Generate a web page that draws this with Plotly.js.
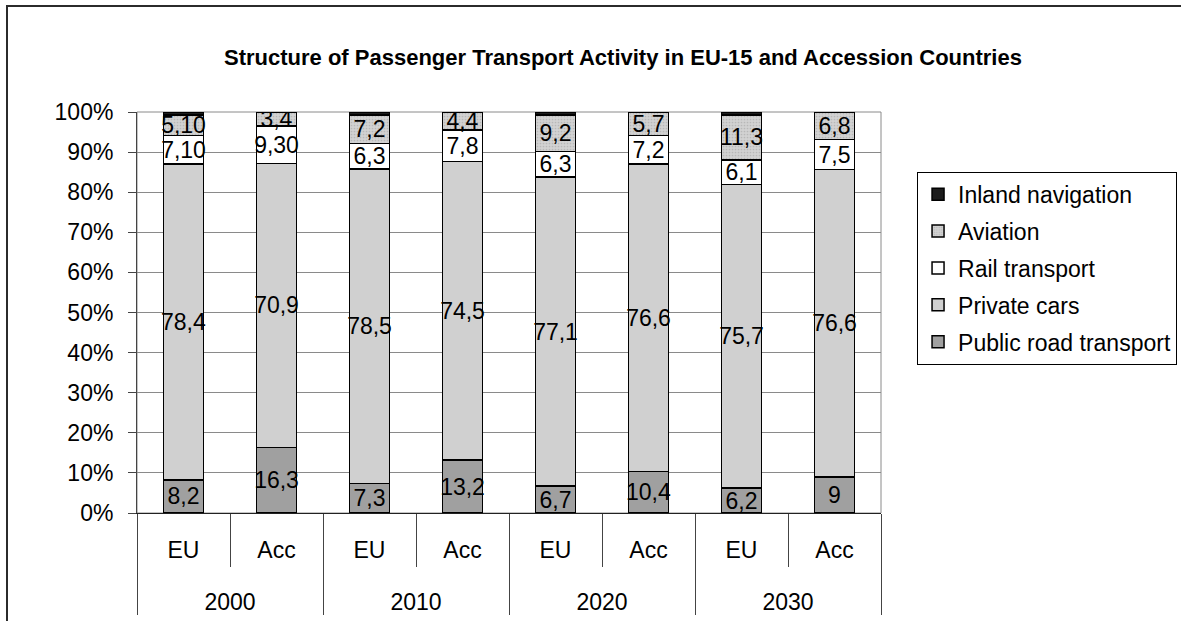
<!DOCTYPE html>
<html><head><meta charset="utf-8">
<script src="https://cdn.plot.ly/plotly-3.0.1.min.js"></script>
<style>
html,body{margin:0;padding:0;background:#fff;overflow:hidden;}
#wrap{position:relative;width:1181px;height:621px;overflow:hidden;background:#fff;}
#chart{position:absolute;left:0;top:0;width:1181px;height:621px;}
#frame{position:absolute;left:6px;top:5px;width:1300px;height:800px;border-left:2px solid #2b2b2b;border-top:2px solid #2b2b2b;pointer-events:none;}
</style></head><body>
<div id="wrap"><div id="chart"></div><div id="frame"></div></div>
<script>
// ---- data ----
const years = ['2000','2000','2010','2010','2020','2020','2030','2030'];
const regions = ['EU','Acc','EU','Acc','EU','Acc','EU','Acc'];

const publicRoad  = [8.2, 16.3, 7.3, 13.2, 6.7, 10.4, 6.2, 9];
const privateCars = [78.4, 70.9, 78.5, 74.5, 77.1, 76.6, 75.7, 76.6];
const railTransport = [7.1, 9.3, 6.3, 7.8, 6.3, 7.2, 6.1, 7.5];
const aviation    = [5.1, 3.4, 7.2, 4.4, 9.2, 5.7, 11.3, 6.8];
const inlandNav   = [0.7, 0.1, 0.7, 0.1, 0.7, 0.1, 0.7, 0.1];

const publicRoadLabels  = ['8,2','16,3','7,3','13,2','6,7','10,4','6,2','9'];
const privateCarsLabels = ['78,4','70,9','78,5','74,5','77,1','76,6','75,7','76,6'];
const railLabels        = ['7,10','9,30','6,3','7,8','6,3','7,2','6,1','7,5'];
const aviationLabels    = ['5,10','3,4','7,2','4,4','9,2','5,7','11,3','6,8'];

const seriesNames = ['Public road transport','Private cars','Rail transport','Aviation','Inland navigation'];

// ---- build ----
const FONT = 'Liberation Sans, Arial, Helvetica, sans-serif';
// invisible tall spacer so the year row sits lower (spacing only)
const pad = '<span style="font-size:59px">\u00a0</span>';
const xCats = [years, regions.map(r => pad + r + pad)];

function mk(idx, y, labels, color, extra) {
  const t = {
    type: 'bar', name: seriesNames[idx], legendgroup: 'g' + idx,
    legendrank: seriesNames.length - idx,
    x: xCats, y: y,
    text: labels || y.map(() => ''),
    textposition: 'inside', insidetextanchor: 'middle', textangle: 0,
    constraintext: 'none',
    textfont: {family: FONT, size: 23, color: '#000'},
    insidetextfont: {family: FONT, size: 23, color: '#000'},
    marker: {color: color, line: {color: '#000', width: 1.5}},
    hoverinfo: 'skip'
  };
  if (extra) Object.assign(t.marker, extra);
  return t;
}

const data = [
  mk(0, publicRoad, publicRoadLabels, '#a0a0a0'),
  mk(1, privateCars, privateCarsLabels, '#d0d0d0'),
  mk(2, railTransport, railLabels, '#ffffff'),
  mk(3, aviation, aviationLabels, '#cbcbcb',
     {pattern: {shape: '.', bgcolor: '#d2d2d2', fgcolor: '#b8b8b8', size: 3, solidity: 0.25}}),
  mk(4, inlandNav, null, '#1c1c1c')
];

const layout = {
  width: 1181, height: 621,
  margin: {l: 137, r: 300, t: 112, b: 108, pad: 0},
  paper_bgcolor: 'rgba(0,0,0,0)', plot_bgcolor: '#fff',
  barmode: 'stack', barnorm: 'percent', bargap: 0.57,
  font: {family: FONT, size: 23, color: '#000'},
  title: {
    text: 'Structure of Passenger Transport Activity in EU-15 and Accession Countries',
    font: {family: FONT, size: 22, weight: 'bold', color: '#000'},
    x: 0.5275, xanchor: 'center', xref: 'container',
    y: 0.908, yanchor: 'middle', yref: 'container'
  },
  xaxis: {
    type: 'multicategory', showline: true, linecolor: '#222', linewidth: 1,
    ticks: 'outside', tickson: 'boundaries', ticklen: 53, tickcolor: '#444', tickwidth: 1,
    ticklabelstandoff: 16, automargin: false,
    showdividers: true, dividercolor: '#444', dividerwidth: 1,
    showgrid: false, zeroline: false,
    tickfont: {family: FONT, size: 23, color: '#000'}
  },
  yaxis: {
    range: [0, 100], dtick: 10, ticksuffix: '%',
    showgrid: true, gridcolor: '#8a8a8a', gridwidth: 1,
    showline: true, linecolor: '#444', linewidth: 1,
    ticks: 'outside', ticklen: 8, tickcolor: '#444',
    ticklabelstandoff: 10, zeroline: false, automargin: false,
    tickfont: {family: FONT, size: 23, color: '#000'}
  },
  legend: {
    xref: 'container', yref: 'container',
    x: 0.7765, xanchor: 'left', y: 0.7235, yanchor: 'top',
    traceorder: 'grouped', tracegroupgap: 4,
    bordercolor: '#000', borderwidth: 1, bgcolor: '#fff',
    font: {family: FONT, size: 23, color: '#000'}
  },
  shapes: [{type: 'rect', xref: 'paper', yref: 'paper', x0: 0, x1: 1, y0: 0, y1: 1,
            line: {color: '#8a8a8a', width: 1}, layer: 'below'}],
  showlegend: true,
  hovermode: false
};

Plotly.newPlot('chart', data, layout, {displayModeBar: false, staticPlot: true});
</script>
</body></html>
